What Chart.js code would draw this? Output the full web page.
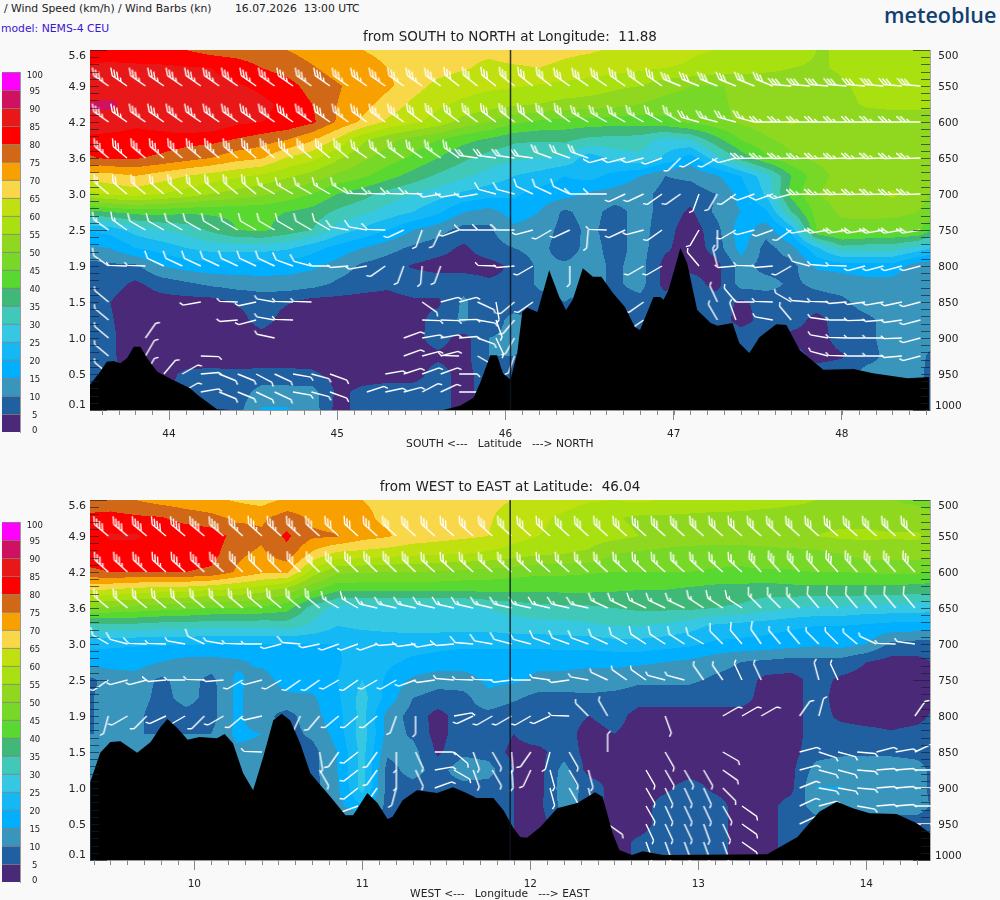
<!DOCTYPE html>
<html lang="en">
<head>
<meta charset="UTF-8">
<title>Wind cross sections</title>
<script src="https://cdn.jsdelivr.net/npm/chart.js@4/dist/chart.umd.js"></script>
<style>
    html, body { margin: 0; padding: 0; background: #f9f9f9; }
    body { width: 1000px; height: 900px; position: relative; overflow: hidden; font-family: "DejaVu Sans", sans-serif; }
    canvas { position: absolute; }
    .txt { position: absolute; white-space: pre; color: #222; font-size: 10.8px; line-height: 12px; }
    #model { color: #3a14d8; }
    #logo { font-family: "Open Sans", sans-serif; font-weight: 600; font-size: 21.5px; line-height: 26px; color: #123f70; }
</style>
</head>
<body>
<div class="txt" style="left:4px;top:3px">/ Wind Speed (km/h) / Wind Barbs (kn)</div>
<div class="txt" style="left:235px;top:3px">16.07.2026  13:00 UTC</div>
<div class="txt" id="model" style="left:1px;top:23px">model: NEMS-4 CEU</div>
<div class="txt" id="logo" style="left:884px;top:2px">meteoblue</div>

<canvas id="legendTop" width="64" height="400" style="left:0;top:50px"></canvas>
<canvas id="legendBottom" width="64" height="400" style="left:0;top:500px"></canvas>
<canvas id="chartTop" width="1000" height="450" style="left:0;top:0"></canvas>
<canvas id="chartBottom" width="1000" height="450" style="left:0;top:450px"></canvas>

<script>
// wind speed classes, one colour per 5 km/h from 0 to 100
const speedEdges = [0,5,10,15,20,25,30,35,40,45,50,55,60,65,70,75,80,85,90,95,100];
const speedColors = ['#4a2a78','#2060a0','#3a95bd','#00b0ff','#14b8f5','#36c8e2','#40c8b8','#40b878',
    '#58d830','#78d828','#90d820','#a8e010','#c0e010','#f8d848','#f8a000','#d06818',
    '#ff0000','#e81818','#d01060','#ff00ff'];

const pressureTicks = [500,550,600,650,700,750,800,850,900,950,1000];
const heightLabels = ['5.6','4.9','4.2','3.6','3.0','2.5','1.9','1.5','1.0','0.5','0.1'];

// grid of the speed field, rows are pressure levels
const gridPressure = [500,525,550,575,600,625,650,675,700,725,750,775,800,825,850,875,900,925,950,975,1000];
const gridLat = [43.5,43.65,43.8,43.95,44.1,44.25,44.4,44.55,44.7,44.85,45,45.15,45.3,45.45,45.6,45.75,45.9,46.05,46.2,46.35,46.5,46.65,46.8,46.95,47.1,47.25,47.4,47.55,47.7,47.85,48,48.15,48.3,48.45,48.6];
const gridLon = [9.35,9.5,9.65,9.8,9.95,10.1,10.25,10.4,10.55,10.7,10.85,11,11.15,11.3,11.45,11.6,11.75,11.9,12.05,12.2,12.35,12.5,12.65,12.8,12.95,13.1,13.25,13.4,13.55,13.7,13.85,14,14.15,14.3,14.45];

const speedSouthNorth = [
[83,83,82,81,80,78,77,76,75,73,71.5,70,69,68,67.5,66,66,67,67,66,65.5,64.5,63,62,60.5,60,59,58,57,55,55,56,60,60,58],
[85.5,86,86,86,85.5,85,83.5,80,78,75.5,73,71.5,70,68.5,67,65.5,64,64.5,65,64,63,62,61,60,59.5,58,57,56,55,54.5,55.5,57,58,58,57],
[87,87,87,87,86.5,86,85.5,84,82,78,75.5,73,71,67,63.5,62,61,60.5,59.5,58.5,57.5,56,55,52,50,49.5,51,52,53,53,54.5,56,57,57,57],
[90,91,88,88,88,87,88,86,84,80,75,72,68,64,61,59,57.5,56,55,53.5,53,52,50,48,48,49,51,52,53,53,54,55.5,56,56,56],
[90,88,86,87,90,89,86,85,84,81,74.5,69,64,61,58,53,50,46,44,43,42.5,42,42,43.5,46,48,51,53,55.5,54,53,53,53,53,53],
[83,83,83,83,82,81.5,79.5,77.5,75,70.5,64,56,51.5,48,45,41.5,39,36,35.5,36,33.5,33,32.5,28,30,38,45,49,52,52,52,52,52,52,52],
[79,81,80.5,79,77,75,72,70.5,64.5,61.5,56,51,47.5,44,40,36,33,31,30,29,22,27,29,24,17.5,28,37,44,49,51,51.5,51.5,51,51,51],
[67,68,70,67.5,65,63,61,59,56,53,49,46,42,38,34,31,28,25,23,20,22,18,15,10,11,14,20,28,40,48,52,52,52,52,50],
[58,61,62,60,58,55,53,51,48,45,40,37,33,30,27,24,22,21,18,17,14,13,12,8,7.5,10,17,26,42,50,52,52,56,52,48],
[38,40,42,42,41,41,41,41,40,38,34,31,28,25,21,15,13,17,15,9,12,8,12,8,4,11,15,19,35,47,51,52,52,50,46],
[20,22,27,30,32,36,40,41,38,35,28,24,20,15,12,8,9,14,13,8,11,8,12,7,2,8,18,12,22,45,48,47,46,46,36],
[14,15,20,22,25,27,27,27,26,22,18,15,12,9,7,4,8,10,12,7,12,8,12,6,2,7,17,8,13,24,33,32,32,28,22],
[8,9,9,15,17,18,18,18,17,16,13,9,7,4.5,3,3,3,6,11,11,12,9,12,3,3,3,12,8,8,16,17,18,18,12,11],
[6,7,4,7,9,11,12,12.5,13,12,9,7,6,8,8,8,6,6,11,12,12,9,12,3,8,3,12,12,9,11,12,13,13,12,11],
[6,5,2,3,3,3,5.5,7,5.5,3,3,3,3,4,4,11,6,5,8,10,8,8,8,8,8,8,4,7,8,8,9,12,12,12,12],
[6,5.5,2,2,2,2,3,7,3,2,2,2,2,3,7,11,5,13,8,8,8,8,8,8,8,8,3,7,8,3,8,9,12,12,12],
[6,6,2,2,2,2,2,3,2,2,2,2,2,3.5,7,3,10,12,8,8,8,8,8,8,8,8,8,8,3,3,7,9,12,12,10],
[6,6,2,2,2,2,2,2,2,2,2,2,2,3,4,3,10,10,8,8,8,8,8,8,8,8,8,8,8,3,4.5,8,12,11,8],
[6,6,4,3,6,6.5,6,6.5,6.5,6,3,3,3,3,7,3,8,8,8,8,8,8,8,8,8,8,8,8,8,8,8,12,12,11,7],
[6,6,4,5,6,7,7,12,12,12,4,6,7,7,7,3,8,8,8,8,8,8,8,8,8,8,8,8,8,8,8,12,12,11,7],
[6,6,6,6,6,7,8,15.5,15.5,13,3,7,7,7,7,3,8,8,8,8,8,8,8,8,8,8,8,8,8,8,8,12,12,11,7]
];

const speedWestEast = [
[77,76.5,75,73,72,71,69.5,68,71,72,71.5,70,69,68,67.5,67,66,65,63,62,60.5,60,61,59.5,58,58,57.5,57,56,55,53,52,50,49,48],
[81,82,81,80.5,78,76.5,74,74,77.5,74,72,71,69,67.5,67,66.5,65.5,63,61,59,57,55.5,54,54,54,53.5,53.5,53,53,53.5,53.5,53.5,53,52,50],
[83,85.5,85.5,83.5,84,83,78,76,81,76,75.5,72,70.5,68,67,66,65,62,60,58.5,57.5,56.5,55,54,53.5,53,53,53,54,55,56,56,55.5,56,52],
[82,83,83,83,83,82,76,74,78,69,63.5,63,62,61,60.5,60,59,57.5,55.5,55,54,50,49,48,47,47,47,48,48,48.5,50,52,52,52,51],
[79,80,80,80,80,79,74.5,71,71,58,51,50.5,50,50,49.5,48.5,48,47,46,46,45.5,45,45,45,45,44.5,44,44.5,44.5,45,45,45.5,46,46,44],
[65,64.5,63,62,61.5,60,59,57,53,46,41,41,41,41,41,41,41,41,41,41,41,40.5,40,40,39,38,38,37,38,38,38,38,38,37,37],
[50,49,48,47,46,45,45,44,42,33,28,27.5,27.5,27.5,27.5,28,30,32,33,34,34,35,36,36,36,35,34,32,30,29,29,28,28,27.5,27],
[33,33,33,32,32,31,31,31,32,29,25,26,26.5,27,27,27,27,27.5,28,28,29,30,30,29,27,24,23,22,21,20,20,19,18,18,18],
[21,21,20.5,20.5,20.5,20,20,20,20,20,20,21.5,22,22,21.5,21,21,21.5,21.5,22,22,23,23,22,21,19,18.5,18,17,16,17,15,9,8,8],
[17,17,17,15,13,13,14,16,17,18,19,24,21,19,18,17,17,16.5,16,16,16,16,16,15,14,12,10,9,8,8,8,5,3,3.5,6],
[8,12,13,9,12,8.5,16,13,17,18,20,25,19,14,12,13,16,16,14,14,13,13,11,11,11,9,8,3.5,3,7,4,3,3,3,3],
[9,12,13,8,12,8,16,12,14,14,19,27,18,10,8,8,14,11,8,8,9,8,7,7,7,7,7,3,3,7,3,3,3,3,3],
[9,12,12,6,8,8,16,12,8,13,18,27,13,8,3,8,8,6,8,7,5,7,3,3,3,3,3,3,3,7,4,3,3,3.5,7],
[10,10,10,10,10,10,16,15,8,11,17,28,13,9,3,8,9,5,8,7,3,5,3,3,3,3,3,3,3,7,7,6.5,5.5,6.5,7],
[10,10,10,10,10,10,14,14,8,8,15,27,11,12,4,9,8,3.5,3.5,8,3,3,3,3,3,3,3,3,3,8,9,9,9,8.5,8],
[10,10,10,10,10,10,12,10,8,8,15,27,8,12,8,13,12,5,3,12,3,3,3,3,3,3,3,3,3.5,12,13,13,13,12,7],
[10,10,10,10,10,10,10,10,8,8,14,27,8,8,8,8,8,5,3,13,8,3,3,4,7,4,3,3,3.5,15.2,15.2,13,13,12,7],
[10,10,10,10,10,10,10,10,8,8,13,20,8,8,8,8,8,5,3.5,12,8,3,3,7,7,7,3,3,7,12,12,12,12,12,8],
[10,10,10,10,10,10,10,10,8,8,8,8,8,8,8,8,8,5,3,8,8,3,3,7,7,7,3,3,7,8,8,8,8,8,7],
[10,10,10,10,10,10,10,10,8,8,8,8,8,8,8,8,8,5,3,8,8,3,6,7,7,7,3,3,7,8,8,8,8,8,7],
[10,10,10,10,10,10,10,10,8,8,8,8,8,8,8,8,8,5,3,8,8,3,6,7,7,7,3,3,7,8,8,8,8,8,7]
];

// ground profile as latitude/longitude against pressure
const terrainLat = [43.53,43.59,43.63,43.67,43.71,43.75,43.79,43.83,43.87,43.93,44.02,44.12,44.18,44.285,44.36,45.63,45.73,45.81,45.85,45.91,45.95,45.985,46.03,46.07,46.10,46.13,46.19,46.26,46.32,46.36,46.40,46.46,46.52,46.57,46.64,46.71,46.77,46.80,46.88,46.92,46.94,46.97,47.04,47.08,47.14,47.22,47.26,47.35,47.39,47.45,47.51,47.61,47.67,47.75,47.89,48.07,48.185,48.39,48.52];
const terrainLatP = [965,947,933,932,935,928,912,912,928,947,958,969,981,999,1000,1000,994,983,962,924,924,949,958,921,864,858,864,806,843,861,847,803,815,815,838,857,885,889,843,843,847,833,775,796,861,879,883,879,907,921,899,881,882,917,944,943,949,956,954];
const terrainLon = [9.38,9.44,9.50,9.56,9.66,9.74,9.80,9.84,9.90,9.96,10.03,10.135,10.18,10.23,10.29,10.35,10.41,10.47,10.52,10.57,10.63,10.69,10.75,10.81,10.90,10.945,11.03,11.09,11.15,11.18,11.24,11.325,11.445,11.54,11.62,11.68,11.78,11.84,11.90,11.94,11.98,12.06,12.16,12.28,12.385,12.43,12.49,12.53,12.605,12.67,12.79,13.41,13.59,13.72,13.825,13.92,14.02,14.18,14.30,14.38];
const terrainLonP = [892,851,836,835,851,836,815,804,817,833,829,831,825,838,879,903,857,806,797,806,838,879,896,912,938,938,907,921,943,940,917,903,907,899,907,914,914,931,956,968,969,954,928,921,906,912,963,986,993,988,993,992,968,933,919,928,935,936,949,963];

// wind barbs: [pressure, [[first column, last column, direction, knots], ...]]
const barbsSouthNorth = [
[550,[[0,18,305,35],[19,24,308,30],[25,30,305,30],[31,36,292,30],[37,44,275,30]]],
[600,[[0,16,305,35],[17,25,307,30],[26,31,300,25],[32,35,285,25],[36,44,270,25]]],
[650,[[0,10,310,35],[11,13,310,30],[14,19,305,25],[20,23,278,20],[24,26,290,20],[27,29,255,10],[30,30,250,5],[31,31,225,5],[32,33,240,5],[34,34,255,10],[35,44,268,25]]],
[700,[[0,2,310,20],[3,8,310,20],[9,13,300,15],[14,17,272,15],[18,20,260,10],[21,22,285,10],[23,25,295,10],[26,27,270,10],[28,29,245,5],[30,31,235,5],[32,32,200,5],[33,33,210,5],[34,34,235,5],[35,36,250,10],[37,37,255,15],[38,44,268,25]]],
[750,[[0,1,305,15],[2,12,300,10],[13,14,280,10],[15,15,272,10],[16,16,245,5],[17,17,200,5],[18,18,205,5],[19,19,250,5],[20,22,270,10],[23,23,255,5],[24,24,240,5],[25,25,245,5],[26,26,185,5],[27,27,272,5],[28,28,245,5],[29,29,255,5],[30,30,235,5],[32,32,210,5],[33,33,180,5],[34,34,240,5],[35,35,255,5],[36,36,250,5],[37,37,235,5],[38,38,260,10],[39,44,260,20]]],
[800,[[0,0,305,10],[1,2,272,5],[3,9,295,10],[10,10,290,10],[11,11,285,10],[12,12,270,5],[13,13,265,5],[14,14,260,5],[15,15,235,5],[16,16,200,5],[17,17,185,5],[18,18,200,5],[21,21,272,5],[22,22,265,5],[23,23,240,5],[25,25,180,5],[29,30,240,5],[32,32,320,5],[33,33,345,5],[34,34,265,5],[35,35,272,5],[36,36,265,5],[37,37,240,5],[38,38,285,10],[39,39,275,5],[40,40,272,5],[41,44,255,5]]],
[850,[[0,0,310,5],[5,5,260,5],[7,7,272,5],[8,8,258,5],[9,9,280,5],[10,11,272,5],[17,17,125,5],[18,19,75,5],[20,20,115,5],[21,21,170,5],[22,22,230,5],[23,23,235,5],[29,29,235,5],[33,33,335,5],[34,34,320,5],[35,35,270,5],[36,36,272,5],[37,37,300,5],[38,38,275,5],[39,39,272,5],[40,40,265,5],[41,41,262,5],[42,42,260,5],[43,43,258,5],[44,44,255,5]]],
[875,[[0,0,310,5],[7,7,265,5],[8,8,255,5],[9,9,280,5],[10,10,272,5],[17,18,92,5],[19,19,88,5],[20,20,100,5],[21,21,160,5],[22,22,220,5],[29,29,235,5],[33,33,330,5],[34,34,340,5],[36,36,280,5],[37,37,320,5],[39,39,278,5],[40,40,270,5],[41,41,268,5],[42,42,265,5],[43,43,262,5],[44,44,255,5]]],
[900,[[0,0,310,5],[2,2,35,5],[9,9,282,5],[16,16,70,5],[17,18,80,5],[19,19,85,5],[20,20,110,5],[21,21,155,5],[22,22,210,5],[39,39,280,5],[40,40,272,5],[41,42,270,5],[43,43,268,5],[44,44,255,5]]],
[925,[[0,0,310,5],[2,2,30,5],[5,5,92,5],[16,16,70,5],[17,18,75,5],[19,19,272,5],[20,20,120,5],[22,22,200,5],[39,39,285,5],[40,40,272,5],[41,42,270,5],[43,43,265,5],[44,44,255,5]]],
[950,[[0,0,310,5],[2,2,30,5],[3,3,40,5],[4,4,60,5],[5,5,85,5],[6,7,112,5],[8,8,118,5],[9,9,115,5],[10,10,100,5],[11,11,105,5],[12,12,110,5],[15,15,80,5],[16,16,72,5],[17,18,70,5],[19,19,90,5]]],
[975,[[4,4,60,5],[5,5,80,5],[6,7,112,5],[8,9,115,5],[10,10,100,5],[11,11,105,5],[12,12,110,5],[14,14,72,5],[15,15,78,5],[16,16,75,5],[17,17,62,5],[18,18,65,5],[19,19,90,5]]]
];
const barbsWestEast = [
[550,[[0,6,310,40],[7,10,312,35],[11,42,312,30]]],
[600,[[0,6,312,35],[7,16,314,30],[17,33,312,25],[34,42,318,30]]],
[650,[[0,11,310,20],[12,13,300,15],[14,25,283,15],[26,30,295,15],[31,33,303,15],[34,36,315,15],[37,42,320,10]]],
[700,[[0,0,300,10],[1,1,285,10],[2,2,272,10],[3,3,272,5],[4,4,280,5],[5,5,295,10],[6,6,280,5],[7,7,272,5],[8,8,270,5],[9,9,255,5],[10,10,275,10],[11,11,258,5],[12,14,250,5],[15,15,265,5],[16,16,262,10],[17,17,260,10],[18,18,265,10],[19,19,275,10],[20,20,280,10],[21,22,285,10],[23,25,290,10],[26,26,295,10],[27,27,300,10],[28,30,303,10],[31,31,300,10],[32,32,315,10],[33,33,320,10],[34,34,325,10],[35,36,320,5],[37,38,315,5],[39,39,310,5],[40,40,295,5],[41,41,272,5],[42,42,278,5]]],
[750,[[0,0,235,5],[1,2,255,5],[3,3,265,10],[4,4,270,5],[5,5,272,5],[6,6,265,5],[7,7,240,5],[8,8,255,5],[9,9,240,5],[10,11,235,5],[12,12,240,5],[13,13,235,5],[14,15,240,5],[16,16,250,5],[17,17,262,5],[18,18,275,5],[19,20,272,5],[21,21,263,5],[22,22,270,5],[23,23,278,5],[24,24,262,5],[25,25,280,5],[26,26,295,5],[27,28,305,5],[29,30,285,5],[31,32,325,5],[33,34,335,5],[37,37,345,5],[38,38,335,5]]],
[800,[[0,0,195,5],[1,1,240,5],[2,2,225,5],[3,3,245,5],[4,4,240,5],[5,5,225,5],[6,6,240,5],[7,7,230,5],[8,8,257,5],[10,10,205,5],[11,11,220,5],[12,14,230,5],[15,15,200,5],[16,16,180,5],[18,18,80,5],[19,19,245,5],[20,22,240,5],[23,23,245,5],[24,24,272,5],[25,25,315,5],[26,26,330,5],[29,29,160,5],[32,34,60,5],[36,36,35,5],[37,37,15,5],[42,42,35,5]]],
[850,[[8,8,272,5],[11,11,170,5],[12,12,215,5],[13,13,232,5],[14,14,215,5],[15,15,180,5],[16,16,155,5],[17,17,90,5],[18,18,130,5],[19,19,160,5],[20,20,150,5],[21,21,175,5],[22,22,215,5],[23,23,195,5],[24,24,150,5],[26,26,0,5],[29,29,150,5],[32,32,120,5],[36,36,75,5],[37,37,108,5],[38,38,105,5],[39,39,95,5],[40,40,75,5],[41,41,80,5],[42,42,65,5]]],
[875,[[11,11,150,5],[13,13,232,5],[14,14,215,5],[15,15,180,5],[16,16,155,5],[17,17,80,5],[18,18,120,5],[19,19,160,5],[20,20,150,5],[21,21,175,5],[22,22,205,5],[23,23,165,5],[24,24,150,5],[25,25,165,5],[28,31,150,5],[32,32,125,5],[36,36,75,5],[37,38,105,5],[39,39,95,5],[40,41,85,5],[42,42,90,5]]],
[900,[[13,13,232,5],[14,14,215,5],[15,15,195,5],[17,17,70,5],[23,23,165,5],[24,24,150,5],[25,25,165,5],[28,28,150,5],[29,31,155,5],[32,32,135,5],[36,36,68,5],[37,38,100,5],[39,39,95,5],[40,41,85,5],[42,42,90,5]]],
[925,[[13,13,250,5],[28,28,150,5],[29,31,155,5],[32,32,150,5],[33,33,125,5],[36,36,65,5],[37,37,75,5],[39,39,100,5],[40,41,85,5],[42,42,90,5]]],
[950,[[26,26,125,5],[28,30,155,5],[31,31,160,5],[32,32,155,5],[33,33,125,5],[36,36,65,5],[42,42,90,5]]],
[975,[[28,32,160,5],[33,33,125,5]]]
];

function hexRgb(h) {
    return [parseInt(h.substr(1, 2), 16), parseInt(h.substr(3, 2), 16), parseInt(h.substr(5, 2), 16)];
}

function findCell(arr, v) {
    let i = 0;
    while (i < arr.length - 2 && arr[i + 1] <= v) i++;
    return [i, Math.max(0, Math.min(1, (v - arr[i]) / (arr[i + 1] - arr[i])))];
}

// filled contours of the speed field, painted pixel by pixel through the scales
const fieldPlugin = {
    id: 'field',
    beforeDatasetsDraw(chart, args, opts) {
        const a = chart.chartArea, sx = chart.scales.x, sy = chart.scales.y;
        const w = Math.round(a.right - a.left), h = Math.round(a.bottom - a.top);
        const off = document.createElement('canvas');
        off.width = w; off.height = h;
        const oc = off.getContext('2d');
        const img = oc.createImageData(w, h);
        const rgb = speedColors.map(hexRgb);
        const cols = [];
        for (let px = 0; px < w; px++) cols.push(findCell(opts.xs, sx.getValueForPixel(a.left + px + 0.5)));
        for (let py = 0; py < h; py++) {
            const [r, fr] = findCell(gridPressure, sy.getValueForPixel(a.top + py + 0.5));
            for (let px = 0; px < w; px++) {
                const [c, fc] = cols[px];
                const v = (opts.grid[r][c] * (1 - fc) + opts.grid[r][c + 1] * fc) * (1 - fr)
                        + (opts.grid[r + 1][c] * (1 - fc) + opts.grid[r + 1][c + 1] * fc) * fr;
                const col = rgb[Math.max(0, Math.min(19, Math.floor(v / 5)))];
                const k = (py * w + px) * 4;
                img.data[k] = col[0]; img.data[k + 1] = col[1]; img.data[k + 2] = col[2]; img.data[k + 3] = 255;
            }
        }
        oc.putImageData(img, 0, 0);
        chart.ctx.drawImage(off, a.left, a.top);
    },
    afterDraw(chart) {
        const a = chart.chartArea, sx = chart.scales.x, sy = chart.scales.y, ctx = chart.ctx;
        ctx.save();
        ctx.lineWidth = 1;
        ctx.strokeStyle = 'rgba(20,30,40,0.65)';
        ctx.beginPath();
        // small ticks every 10 hPa, inside the plot on both sides
        for (let p = 500; p <= 1000; p += 10) {
            const y = Math.round(sy.getPixelForValue(p)) + 0.5;
            const len = p % 250 === 0 ? 17 : 9;
            ctx.moveTo(a.left, y); ctx.lineTo(a.left + len, y);
            ctx.moveTo(a.right, y); ctx.lineTo(a.right - len, y);
        }
        ctx.stroke();
        // minor ticks every 0.1 degree under the plot
        ctx.strokeStyle = '#888';
        ctx.beginPath();
        for (let d = Math.ceil(sx.min * 10); d <= sx.max * 10; d++) {
            const x = Math.round(sx.getPixelForValue(d / 10)) + 0.5;
            ctx.moveTo(x, a.bottom); ctx.lineTo(x, a.bottom + 5);
        }
        ctx.stroke();
        ctx.restore();
    }
};

// barb glyph: base in the middle of the canvas, staff pointing to the direction
const glyphs = {};
function barbGlyph(kn, dir) {
    const key = kn + '_' + dir;
    if (glyphs[key]) return glyphs[key];
    const c = document.createElement('canvas');
    c.width = 48; c.height = 48;
    const g = c.getContext('2d');
    g.translate(24, 24);
    g.rotate(dir * Math.PI / 180);
    g.strokeStyle = '#fff';
    g.lineWidth = 1.4;
    g.beginPath();
    g.moveTo(0, 0); g.lineTo(0, -18);
    let y = -18, left = kn;
    while (left >= 10) {
        g.moveTo(0, y); g.lineTo(5.8, y - 5.8);
        y += 3.6; left -= 10;
    }
    if (left >= 5) {
        g.moveTo(0, y); g.lineTo(3, y - 3);
    }
    g.stroke();
    glyphs[key] = c;
    return c;
}

function barbPoints(rows, first, step) {
    const pts = [];
    rows.forEach(function (row) {
        row[1].forEach(function (run) {
            for (let i = run[0]; i <= run[1]; i++) {
                pts.push({ x: first + i * step, y: row[0], dir: run[2], kn: run[3] });
            }
        });
    });
    return pts;
}

function makeSection(id, cfg) {
    return new Chart(document.getElementById(id), {
        type: 'scatter',
        data: {
            datasets: [
                {
                    label: 'terrain',
                    data: cfg.terrainX.map((v, i) => ({ x: v, y: cfg.terrainP[i] })),
                    showLine: true, pointRadius: 0, borderWidth: 0,
                    backgroundColor: '#000', fill: { value: 1000 }, tension: 0, order: 1
                },
                {
                    label: 'wind barbs',
                    data: barbPoints(cfg.barbs, cfg.barbFirst, cfg.barbStep),
                    showLine: false, clip: false, order: 2,
                    pointRadius: 3,
                    pointStyle: c => barbGlyph(c.raw.kn, c.raw.dir)
                },
                {
                    label: 'section',
                    data: [{ x: cfg.cross, y: 500 }, { x: cfg.cross, y: 1000 }],
                    showLine: true, pointRadius: 0, borderWidth: 1.5,
                    borderColor: 'rgba(10,20,30,0.85)', order: 0
                }
            ]
        },
        plugins: [fieldPlugin],
        options: {
            responsive: false,
            animation: false,
            devicePixelRatio: 1,
            events: [],
            plugins: {
                legend: { display: false },
                tooltip: { enabled: false },
                title: {
                    display: true, text: cfg.title, color: '#222', fullSize: false,
                    font: { family: 'DejaVu Sans', size: 13.5, weight: 'normal', lineHeight: 1.2 },
                    padding: { top: 28.9, bottom: 4.9 }
                },
                field: { grid: cfg.grid, xs: cfg.xs }
            },
            scales: {
                x: {
                    type: 'linear', min: cfg.xMin, max: cfg.xMax,
                    afterBuildTicks: s => { s.ticks = cfg.xTicks.map(v => ({ value: v })); },
                    afterFit: s => { s.height = 40; },
                    ticks: { color: '#222', font: { family: 'DejaVu Sans', size: 10.5 }, padding: 8, maxRotation: 0, callback: (v, i) => String(cfg.xTicks[i]) },
                    grid: { drawOnChartArea: false, drawTicks: true, tickLength: 10, color: '#888' },
                    border: { color: '#999' },
                    title: {
                        // trailing spaces keep the label centred on the page rather than on the plot
                        display: true, text: cfg.xTitle + '      ', color: '#222',
                        font: { family: 'DejaVu Sans', size: 10.7, lineHeight: 1 }, padding: 0
                    }
                },
                y: {
                    type: 'linear', reverse: true, min: 500, max: 1000, position: 'left',
                    afterBuildTicks: s => { s.ticks = pressureTicks.map(v => ({ value: v + 1.5 })); },
                    afterFit: s => { s.width = 90; },
                    ticks: {
                        color: '#222', padding: 4,
                        font: { family: 'DejaVu Sans', size: 11, lineHeight: 1 },
                        callback: (v, i) => i === 0 ? ['', heightLabels[i]] : (i === heightLabels.length - 1 ? [heightLabels[i], ''] : heightLabels[i])
                    },
                    grid: { display: false, drawTicks: false },
                    border: { color: '#999' }
                },
                yp: {
                    type: 'linear', reverse: true, min: 500, max: 1000, position: 'right',
                    afterBuildTicks: s => { s.ticks = pressureTicks.map(v => ({ value: v + 1.5 })); },
                    afterFit: s => { s.width = 70; },
                    ticks: {
                        color: '#222', padding: 5, crossAlign: 'center',
                        font: { family: 'DejaVu Sans', size: 10.5, lineHeight: 1 },
                        callback: (v, i) => {
                            const t = String(pressureTicks[i]);
                            return i === 0 ? ['', t] : (i === pressureTicks.length - 1 ? [t, ''] : t);
                        }
                    },
                    grid: { display: false, drawTicks: false },
                    border: { color: '#aaa' }
                }
            }
        }
    });
}

// colour scale beside each section
function makeLegend(id) {
    return new Chart(document.getElementById(id), {
        type: 'bar',
        data: {
            labels: [''],
            datasets: speedColors.map((c, i) => ({
                label: String(speedEdges[i]),
                data: [speedEdges[i + 1] - speedEdges[i]],
                backgroundColor: c,
                borderColor: 'rgba(40,40,40,0.55)',
                borderWidth: { top: 1 },
                borderSkipped: false,
                barPercentage: 1, categoryPercentage: 1
            }))
        },
        options: {
            responsive: false, animation: false, devicePixelRatio: 1, events: [],
            layout: { padding: { left: 2, top: 22, bottom: 18 } },
            plugins: { legend: { display: false }, tooltip: { enabled: false } },
            scales: {
                x: { stacked: true, display: false },
                y: {
                    stacked: true, min: 0, max: 100, position: 'right',
                    afterBuildTicks: s => { s.ticks = speedEdges.map(v => ({ value: v - 0.4 })); },
                    afterFit: s => { s.width = 44; },
                    grid: { display: false, drawTicks: false },
                    border: { color: '#999' },
                    ticks: {
                        color: '#222', padding: 6.7, crossAlign: 'center',
                        font: { family: 'DejaVu Sans', size: 8.5, lineHeight: 0.65 },
                        callback: (v, i) => {
                            const t = String(speedEdges[i]);
                            return i === speedEdges.length - 1 ? ['', t] : (i === 0 ? [t, ''] : t);
                        }
                    }
                }
            }
        }
    });
}

makeLegend('legendTop');
makeLegend('legendBottom');

makeSection('chartTop', {
    title: 'from SOUTH to NORTH at Longitude:  11.88',
    xTitle: 'SOUTH <---   Latitude   ---> NORTH',
    xMin: 43.53, xMax: 48.524, xTicks: [44,45,46,47,48], cross: 46.03,
    grid: speedSouthNorth, xs: gridLat,
    terrainX: terrainLat, terrainP: terrainLatP,
    barbs: barbsSouthNorth, barbFirst: 43.64, barbStep: 0.1097
});

makeSection('chartBottom', {
    title: 'from WEST to EAST at Latitude:  46.04',
    xTitle: 'WEST <---   Longitude   ---> EAST',
    xMin: 9.379, xMax: 14.379, xTicks: [10,11,12,13,14], cross: 11.88,
    grid: speedWestEast, xs: gridLon,
    terrainX: terrainLon, terrainP: terrainLonP,
    barbs: barbsWestEast, barbFirst: 9.488, barbStep: 0.1143
});
</script>
</body>
</html>
